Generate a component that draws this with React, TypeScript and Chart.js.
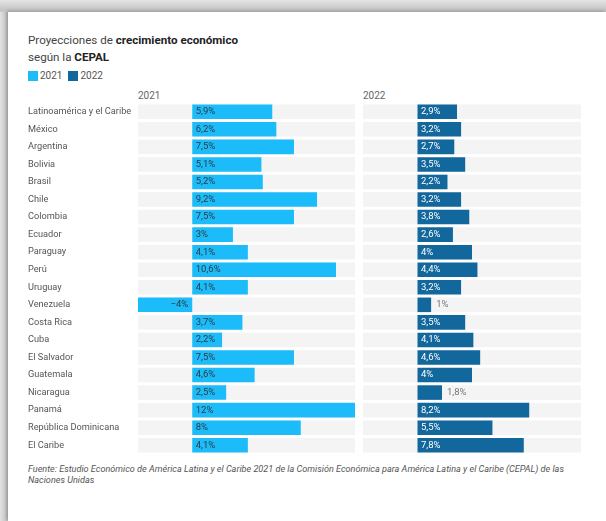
import React, { useEffect, useRef } from "react";
import { Chart, registerables } from "chart.js";

Chart.register(...registerables);

const categories = [
  "Latinoamérica y el Caribe",
  "México",
  "Argentina",
  "Bolivia",
  "Brasil",
  "Chile",
  "Colombia",
  "Ecuador",
  "Paraguay",
  "Perú",
  "Uruguay",
  "Venezuela",
  "Costa Rica",
  "Cuba",
  "El Salvador",
  "Guatemala",
  "Nicaragua",
  "Panamá",
  "República Dominicana",
  "El Caribe",
];

const values2021 = [5.9, 6.2, 7.5, 5.1, 5.2, 9.2, 7.5, 3, 4.1, 10.6, 4.1, -4, 3.7, 2.2, 7.5, 4.6, 2.5, 12, 8, 4.1];
const values2022 = [2.9, 3.2, 2.7, 3.5, 2.2, 3.2, 3.8, 2.6, 4, 4.4, 3.2, 1, 3.5, 4.1, 4.6, 4, 1.8, 8.2, 5.5, 7.8];

const axisMin = -4;
const axisMax = 12;

const COLOR_2021 = "#1bbcf9";
const COLOR_2022 = "#12679c";
const FONT = "Roboto, 'Noto Sans', sans-serif";

const fmt = (v: number) => {
  const s = Math.abs(v).toString().replace(".", ",");
  return (v < 0 ? "\u2212" : "") + s + "%";
};

const bandPlugin = {
  id: "bands",
  beforeDatasetsDraw(chart: any) {
    const { ctx, chartArea, scales } = chart;
    const y = scales.y;
    const meta = chart.getDatasetMeta(0);
    ctx.save();
    ctx.fillStyle = "#f4f4f4";
    meta.data.forEach((bar: any, i: number) => {
      const cy = y.getPixelForValue(i);
      const h = bar.height;
      ctx.fillRect(chartArea.left, cy - h / 2, chartArea.right - chartArea.left, h);
    });
    ctx.restore();
  },
};

const labelPlugin = {
  id: "valueLabels",
  afterDatasetsDraw(chart: any) {
    const { ctx, scales } = chart;
    const x = scales.x;
    const meta = chart.getDatasetMeta(0);
    const data = chart.data.datasets[0].data as number[];
    const insideColor = chart.options.plugins.valueLabels.insideColor;
    ctx.save();
    ctx.font = `9.5px ${FONT}`;
    ctx.textBaseline = "middle";
    const x0 = x.getPixelForValue(0);
    meta.data.forEach((bar: any, i: number) => {
      const v = data[i];
      const t = fmt(v);
      const tw = ctx.measureText(t).width;
      if (v < 0) {
        ctx.textAlign = "right";
        ctx.fillStyle = insideColor;
        ctx.fillText(t, x0 - 4, bar.y);
      } else {
        const w = bar.x - x0;
        if (w > tw + 7) {
          ctx.textAlign = "left";
          ctx.fillStyle = insideColor;
          ctx.fillText(t, x0 + 3.5, bar.y);
        } else {
          ctx.textAlign = "left";
          ctx.fillStyle = "#777";
          ctx.fillText(t, bar.x + 5, bar.y);
        }
      }
    });
    ctx.restore();
  },
};

function makeConfig(values: number[], color: string, showLabels: boolean, insideColor: string): any {
  return {
    type: "bar",
    data: {
      labels: categories,
      datasets: [
        {
          data: values,
          backgroundColor: color,
          borderWidth: 0,
          barPercentage: 0.83,
          categoryPercentage: 1,
        },
      ],
    },
    options: {
      indexAxis: "y",
      animation: false,
      responsive: true,
      maintainAspectRatio: false,
      layout: { padding: 0 },
      plugins: {
        legend: { display: false },
        tooltip: { enabled: false },
        valueLabels: { insideColor },
      },
      scales: {
        x: {
          display: false,
          min: axisMin,
          max: axisMax,
          grid: { display: false },
        },
        y: {
          display: showLabels,
          grid: { display: false, drawTicks: false },
          border: { display: false },
          ticks: {
            crossAlign: "far",
            padding: 0,
            color: "#555",
            font: { family: FONT, size: 9.2 },
          },
          afterFit: (scale: any) => {
            if (showLabels) scale.width = 110;
            scale.paddingTop = 0;
            scale.paddingBottom = 0;
          },
        },
      },
    },
    plugins: [bandPlugin, labelPlugin],
  };
}

function BarPanel(props: { values: number[]; color: string; showLabels: boolean; insideColor: string; style: React.CSSProperties }) {
  const ref = useRef<HTMLCanvasElement | null>(null);
  useEffect(() => {
    if (!ref.current) return;
    const chart = new Chart(ref.current, makeConfig(props.values, props.color, props.showLabels, props.insideColor));
    return () => chart.destroy();
  }, []);
  return (
    <div style={{ position: "absolute", ...props.style }}>
      <canvas ref={ref} />
    </div>
  );
}

export default function App() {
  return (
    <div
      style={{
        position: "fixed",
        left: 0,
        top: 0,
        width: 606,
        height: 521,
        background: "linear-gradient(to bottom, #e4e4e4 0px, #c4c4c4 10px, #cfcfcf 14px)",
        overflow: "hidden",
        fontFamily: FONT,
      }}
    >
      <div
        style={{
          position: "absolute",
          left: 0,
          top: 12,
          width: 8,
          bottom: 0,
          background: "linear-gradient(to right, #e2e2e2 0px, #bcbcbc 8px)",
        }}
      />
      <div
        style={{
          position: "absolute",
          left: 8,
          top: 12,
          right: 0,
          bottom: 0,
          background: "#fff",
          boxShadow: "-1px -1px 3px rgba(0,0,0,0.25)",
        }}
      />
      <div style={{ position: "absolute", left: 28, top: 32, fontSize: 11.6, color: "#444", lineHeight: "17px" }}>
        Proyecciones de <b style={{ color: "#222" }}>crecimiento económico</b>
        <br />
        según la <b style={{ color: "#222" }}>CEPAL</b>
      </div>
      <div style={{ position: "absolute", left: 28, top: 70, fontSize: 10, color: "#555", display: "flex", alignItems: "center", lineHeight: "12px" }}>
        <span style={{ display: "inline-block", width: 10, height: 10, background: COLOR_2021, marginRight: 2 }} />
        <span style={{ marginRight: 6 }}>2021</span>
        <span style={{ display: "inline-block", width: 10, height: 10, background: COLOR_2022, marginRight: 2 }} />
        <span>2022</span>
      </div>
      <div style={{ position: "absolute", left: 138, top: 90, fontSize: 10, color: "#666" }}>2021</div>
      <div style={{ position: "absolute", left: 363, top: 90, fontSize: 10, color: "#666" }}>2022</div>
      <BarPanel values={values2021} color={COLOR_2021} showLabels={true} insideColor="#2f3b44" style={{ left: 28, top: 103, width: 327, height: 351 }} />
      <BarPanel values={values2022} color={COLOR_2022} showLabels={false} insideColor="#ffffff" style={{ left: 363, top: 103, width: 218, height: 351 }} />
      <div style={{ position: "absolute", left: 28, top: 464, fontSize: 9.1, fontStyle: "italic", color: "#555", lineHeight: "11px", whiteSpace: "nowrap" }}>
        Fuente: Estudio Económico de América Latina y el Caribe 2021 de la Comisión Económica para América Latina y el Caribe (CEPAL) de las
        <br />
        Naciones Unidas
      </div>
    </div>
  );
}
